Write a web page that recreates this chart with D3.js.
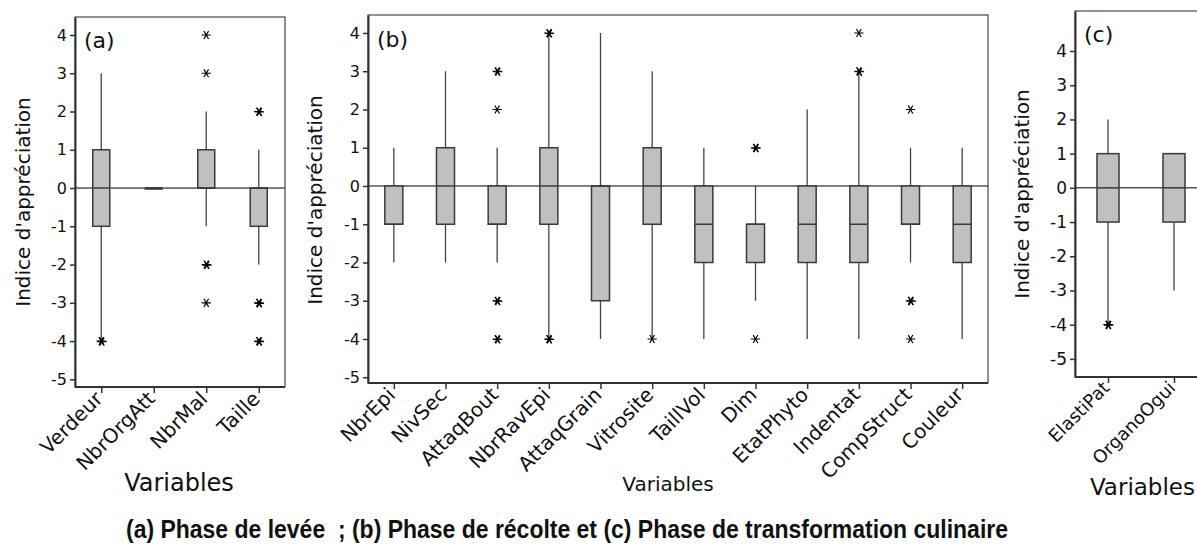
<!DOCTYPE html>
<html>
<head>
<meta charset="utf-8">
<script src="https://cdn.jsdelivr.net/npm/d3@7"></script>
<style>
  body { margin: 0; background: #fff; }
  svg { display: block; }
</style>
</head>
<body>
<svg id="chart" width="1197" height="547"></svg>
<script>
// (a) Phase de levée
const catsA = ["Verdeur", "NbrOrgAtt", "NbrMal", "Taille"];
const q1A   = [-1, 0, 0, -1];
const medA  = [0, 0, 0, 0];
const q3A   = [1, 0, 1, 0];
const loA   = [-4, 0, -1, -2];
const hiA   = [3, 0, 2, 1];
const outA  = [[-4, -4], [], [4, 3, -2, -2, -3], [2, 2, -3, -3, -4, -4]];

// (b) Phase de récolte
const catsB = ["NbrEpi", "NivSec", "AttaqBout", "NbrRavEpi", "AttaqGrain", "Vitrosite",
               "TaillVol", "Dim", "EtatPhyto", "Indentat", "CompStruct", "Couleur"];
const q1B   = [-1, -1, -1, -1, -3, -1, -2, -2, -2, -2, -1, -2];
const medB  = [-1, 0, -1, 0, 0, 0, -1, -1, -1, -1, -1, -1];
const q3B   = [0, 1, 0, 1, 0, 1, 0, -1, 0, 0, 0, 0];
const loB   = [-2, -2, -2, -4, -4, -4, -4, -3, -4, -4, -2, -4];
const hiB   = [1, 3, 1, 4, 4, 3, 1, 0, 2, 3, 1, 1];
const outB  = [[], [], [3, 3, 2, -3, -3, -4, -4], [4, 4, -4, -4], [], [-4], [], [1, 1, -4], [],
               [4, 3, 3], [2, -3, -3, -4], []];

// (c) Phase de transformation culinaire
const catsC = ["ElastiPat", "OrganoOgui"];
const q1C   = [-1, -1];
const medC  = [0, 0];
const q3C   = [1, 1];
const loC   = [-4, -3];
const hiC   = [2, 1];
const outC  = [[-4, -4], []];

const yTicks = [-5, -4, -3, -2, -1, 0, 1, 2, 3, 4];
const caption = "(a) Phase de levée  ; (b) Phase de récolte et (c) Phase de transformation culinaire";

const svg = d3.select("#chart");
const font = "DejaVu Sans, Verdana, sans-serif";

function drawPanel(p) {
  const g = svg.append("g");
  const x = d3.scalePoint().domain(p.cats).range([p.left, p.right]).padding(0.5);
  const y = d3.scaleLinear().domain(p.yDomain).range([p.bottom, p.top]);

  // frame (top / right)
  g.append("rect")
    .attr("x", p.left).attr("y", p.top)
    .attr("width", p.right - p.left).attr("height", p.bottom - p.top)
    .attr("fill", "none").attr("stroke", "#222").attr("stroke-width", 1);

  // zero reference line
  g.append("line")
    .attr("x1", p.left).attr("x2", p.right)
    .attr("y1", y(0)).attr("y2", y(0))
    .attr("stroke", "#000").attr("stroke-width", 1);

  const rows = p.cats.map((c, i) => ({
    c, q1: p.q1[i], med: p.med[i], q3: p.q3[i], lo: p.lo[i], hi: p.hi[i], out: p.out[i]
  }));

  const box = g.selectAll("g.box").data(rows).join("g").attr("class", "box");

  // whiskers
  box.append("line")
    .attr("x1", d => x(d.c)).attr("x2", d => x(d.c))
    .attr("y1", d => y(d.hi)).attr("y2", d => y(d.q3))
    .attr("stroke", "#444").attr("stroke-width", 1.3);
  box.append("line")
    .attr("x1", d => x(d.c)).attr("x2", d => x(d.c))
    .attr("y1", d => y(d.q1)).attr("y2", d => y(d.lo))
    .attr("stroke", "#444").attr("stroke-width", 1.3);

  // boxes
  box.append("rect")
    .attr("x", d => x(d.c) - p.boxW / 2)
    .attr("y", d => y(d.q3))
    .attr("width", p.boxW)
    .attr("height", d => Math.max(1, y(d.q1) - y(d.q3)))
    .attr("fill", "#c0c0c0")
    .attr("stroke", "#3a3a3a").attr("stroke-width", 1.5);

  // medians
  box.append("line")
    .attr("x1", d => x(d.c) - p.boxW / 2).attr("x2", d => x(d.c) + p.boxW / 2)
    .attr("y1", d => y(d.med)).attr("y2", d => y(d.med))
    .attr("stroke", "#3a3a3a").attr("stroke-width", 1.5);

  // outliers (asterisks), repeated values drawn slightly offset
  const star = d3.symbol().type(d3.symbolAsterisk).size(60);
  box.selectAll("path.out")
    .data(d => d.out.map((v, k, arr) => ({
      c: d.c, v, n: arr.slice(0, k).filter(u => u === v).length
    })))
    .join("path")
    .attr("class", "out")
    .attr("d", star)
    .attr("transform", d => `translate(${x(d.c) + d.n * 0.7},${y(d.v) + d.n * 0.5}) rotate(90)`)
    .attr("fill", "none").attr("stroke", "#000").attr("stroke-width", 1.2);

  // y axis
  const ya = g.append("g")
    .attr("transform", `translate(${p.left},0)`)
    .call(d3.axisLeft(y).tickValues(yTicks).tickSize(5).tickSizeOuter(0).tickFormat(d => String(d)));
  ya.select(".domain").attr("stroke", "#333").attr("stroke-width", 2);
  ya.selectAll(".tick line").attr("stroke", "#333").attr("stroke-width", 1.5);
  ya.selectAll(".tick text")
    .attr("font-family", font).attr("font-size", p.tickFs).attr("fill", "#111")
    .attr("x", -8);

  // x axis
  const xa = g.append("g")
    .attr("transform", `translate(0,${p.bottom})`)
    .call(d3.axisBottom(x).tickSize(6).tickSizeOuter(0));
  xa.select(".domain").attr("stroke", "#333").attr("stroke-width", 2)
    .attr("d", `M${p.left},0H${p.right}`);
  xa.selectAll(".tick line").attr("stroke", "#333").attr("stroke-width", 1.5);
  xa.selectAll(".tick text")
    .attr("font-family", font).attr("font-size", p.xFs).attr("fill", "#111")
    .attr("text-anchor", "end")
    .attr("dy", null).attr("y", null)
    .attr("transform", `translate(${p.xOff[0]},${p.xOff[1]}) rotate(-45)`);

  // panel tag
  g.append("text")
    .attr("x", p.left + 9).attr("y", p.tagY)
    .attr("font-family", font).attr("font-size", 22).attr("fill", "#111")
    .text(p.tag);

  // y title
  g.append("text")
    .attr("transform", `translate(${p.yTitle[0]},${p.yTitle[1]}) rotate(-90)`)
    .attr("text-anchor", "middle")
    .attr("font-family", font).attr("font-size", 20).attr("fill", "#111")
    .text("Indice d'appréciation");

  // x title
  g.append("text")
    .attr("x", p.xTitle[0]).attr("y", p.xTitle[1])
    .attr("text-anchor", p.xTitleAnchor)
    .attr("font-family", font).attr("font-size", p.xTitleFs).attr("fill", "#111")
    .text("Variables");
}

drawPanel({
  tag: "(a)", cats: catsA, q1: q1A, med: medA, q3: q3A, lo: loA, hi: hiA, out: outA,
  left: 75, right: 285, top: 17, bottom: 387, yDomain: [-5.2, 4.47], boxW: 17,
  tickFs: 16, xFs: 20, xOff: [2, 13], tagY: 48, yTitle: [30, 202],
  xTitle: [179, 491], xTitleFs: 24, xTitleAnchor: "middle"
});

drawPanel({
  tag: "(b)", cats: catsB, q1: q1B, med: medB, q3: q3B, lo: loB, hi: hiB, out: outB,
  left: 368, right: 988, top: 15, bottom: 383, yDomain: [-5.15, 4.47], boxW: 18,
  tickFs: 16, xFs: 20, xOff: [2, 13], tagY: 47, yTitle: [322, 200],
  xTitle: [668, 491], xTitleFs: 20, xTitleAnchor: "middle"
});

drawPanel({
  tag: "(c)", cats: catsC, q1: q1C, med: medC, q3: q3C, lo: loC, hi: hiC, out: outC,
  left: 1075, right: 1207, top: 11, bottom: 377, yDomain: [-5.53, 5.17], boxW: 22,
  tickFs: 17, xFs: 18, xOff: [2, 12], tagY: 42, yTitle: [1029, 194],
  xTitle: [1195, 495], xTitleFs: 23, xTitleAnchor: "end"
});

svg.append("text")
  .attr("x", 567).attr("y", 538)
  .attr("text-anchor", "middle")
  .attr("textLength", 882).attr("lengthAdjust", "spacingAndGlyphs")
  .style("white-space", "pre")
  .attr("font-family", "Liberation Sans Narrow, Arial Narrow, Liberation Sans, sans-serif")
  .attr("font-weight", "bold").attr("font-size", 25).attr("fill", "#111")
  .text(caption);
</script>
</body>
</html>
